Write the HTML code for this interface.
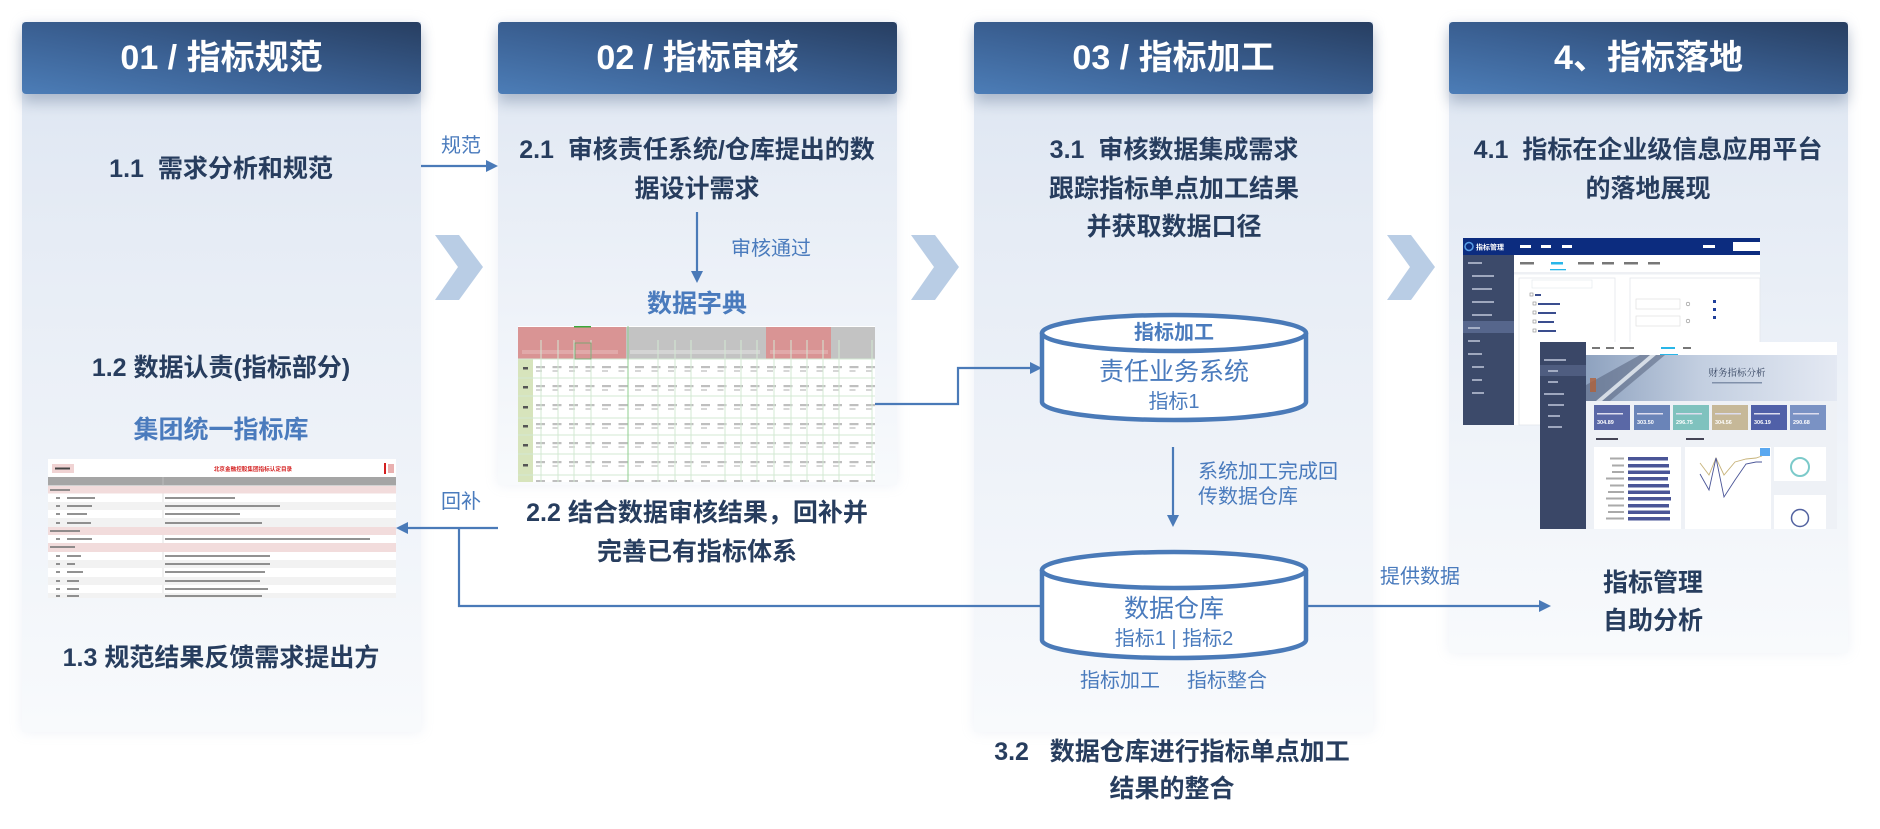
<!DOCTYPE html>
<html><head><meta charset="utf-8">
<style>
html,body{margin:0;padding:0;background:#fff;}
body{width:1880px;height:829px;position:relative;overflow:hidden;font-family:"Liberation Sans","Noto Sans CJK SC",sans-serif;}
.panel{position:absolute;width:399px;background:linear-gradient(180deg,#dce5f1 0%,#e6ecf5 30%,#eff3f9 65%,#f8fafc 100%);box-shadow:0 0 12px rgba(160,180,210,0.18);z-index:1;}
.hdr{position:absolute;width:399px;height:72px;top:22px;border-radius:4px;background:linear-gradient(to top right,#4c7db7 0%,#3b6194 45%,#273e61 100%);box-shadow:0 8px 14px rgba(35,60,100,0.28);color:#fff;font-weight:bold;font-size:34px;line-height:72px;text-align:center;z-index:3;white-space:nowrap;}
.t{position:absolute;white-space:nowrap;text-align:center;width:500px;z-index:4;}
.l{position:absolute;white-space:nowrap;text-align:left;z-index:4;}
.d{color:#273d5e;font-weight:bold;font-size:25px;}
.b{color:#4a7bbd;font-size:20px;}
.bb{color:#4a7bbd;font-weight:bold;font-size:25px;}
svg{position:absolute;left:0;top:0;z-index:2;}
</style></head><body>

<div class="panel" style="left:22px;top:22px;height:710px;"></div>
<div class="panel" style="left:498px;top:22px;height:463px;"></div>
<div class="panel" style="left:974px;top:22px;height:710px;"></div>
<div class="panel" style="left:1449px;top:22px;height:631px;"></div>

<div class="hdr" style="left:22px;">01 / 指标规范</div>
<div class="hdr" style="left:498px;">02 / 指标审核</div>
<div class="hdr" style="left:974px;">03 / 指标加工</div>
<div class="hdr" style="left:1449px;">4、指标落地</div>

<svg width="1880" height="829" viewBox="0 0 1880 829" xmlns="http://www.w3.org/2000/svg">
<defs>
<pattern id="sm1" x="533" y="359" width="16.5" height="19" patternUnits="userSpaceOnUse">
<rect x="3" y="7" width="9" height="2.2" fill="#8a8a8a" opacity="0.55"/>
<rect x="3" y="11" width="6" height="2" fill="#8a8a8a" opacity="0.35"/>
</pattern>
<linearGradient id="ban" x1="0" y1="0" x2="1" y2="0">
<stop offset="0" stop-color="#8ea2bf"/><stop offset="0.45" stop-color="#c2cee0"/><stop offset="1" stop-color="#e4e9f3"/>
</linearGradient>
</defs>

<!-- chevrons -->
<polygon points="435,235 459,235 483,267 459,300 435,300 458,267" fill="#b9cde5"/>
<polygon points="911,235 935,235 959,267 935,300 911,300 934,267" fill="#b9cde5"/>
<polygon points="1387,235 1411,235 1435,267 1411,300 1387,300 1410,267" fill="#b9cde5"/>

<!-- table 1 数据字典 -->
<rect x="518" y="326" width="357" height="156" fill="#fff"/>
<rect x="518" y="327" width="108" height="32" fill="#d99494"/>
<rect x="626" y="327" width="140" height="32" fill="#c3c3c3"/>
<rect x="766" y="327" width="65" height="32" fill="#d99494"/>
<rect x="831" y="327" width="44" height="32" fill="#c3c3c3"/>
<rect x="574" y="326" width="17" height="1.5" fill="#3aa83a"/>
<rect x="518" y="359" width="15" height="123" fill="#d7e4bc"/>
<rect x="533" y="359" width="342" height="123" fill="url(#sm1)"/>
<g fill="#9aa" opacity="0.8">
<rect x="522" y="350" width="96" height="4" fill="#fff" opacity="0.25"/>
<rect x="630" y="350" width="130" height="4" fill="#fff" opacity="0.35"/>
<rect x="770" y="350" width="58" height="4" fill="#fff" opacity="0.25"/>
</g>
<g fill="#555">
<rect x="523" y="367" width="5" height="2.5"/><rect x="523" y="386" width="5" height="2.5"/><rect x="523" y="406" width="5" height="2.5"/>
<rect x="523" y="425" width="5" height="2.5"/><rect x="523" y="444" width="5" height="2.5"/><rect x="523" y="464" width="5" height="2.5"/>
</g>
<g stroke="#d3e8d3" stroke-width="1">
<line x1="518" y1="359" x2="875" y2="359"/><line x1="518" y1="378" x2="875" y2="378"/>
<line x1="518" y1="396" x2="875" y2="396"/><line x1="518" y1="418" x2="875" y2="418"/>
<line x1="518" y1="435" x2="875" y2="435"/><line x1="518" y1="454" x2="875" y2="454"/>
<line x1="518" y1="475" x2="875" y2="475"/>
<line x1="541" y1="340" x2="541" y2="482"/><line x1="558" y1="340" x2="558" y2="482"/>
<line x1="574" y1="340" x2="574" y2="482"/><line x1="591" y1="340" x2="591" y2="482"/>
<line x1="658" y1="340" x2="658" y2="482"/><line x1="675" y1="340" x2="675" y2="482"/>
<line x1="691" y1="340" x2="691" y2="482"/><line x1="725" y1="340" x2="725" y2="482"/>
<line x1="741" y1="340" x2="741" y2="482"/><line x1="757" y1="340" x2="757" y2="482"/>
<line x1="774" y1="340" x2="774" y2="482"/><line x1="791" y1="340" x2="791" y2="482"/>
<line x1="807" y1="340" x2="807" y2="482"/><line x1="823" y1="340" x2="823" y2="482"/>
<line x1="839" y1="340" x2="839" y2="482"/><line x1="872" y1="340" x2="872" y2="482"/>
</g>
<line x1="628" y1="326" x2="628" y2="482" stroke="#8fcf8f" stroke-width="1"/>
<rect x="575" y="343" width="16" height="16" fill="none" stroke="#6aa86a" stroke-width="0.8"/>

<!-- table 2 集团统一指标库 -->
<rect x="48" y="459" width="348" height="139" fill="#fff"/>
<rect x="52" y="464" width="22" height="9" fill="#f0d3d3"/>
<rect x="55" y="467.5" width="15" height="2" fill="#444"/>
<text x="253" y="471" font-size="5.6" font-weight="bold" fill="#d42020" text-anchor="middle" font-family="Liberation Sans, Noto Sans CJK SC, sans-serif">北京金融控股集团指标认定目录</text>
<rect x="384" y="463" width="2" height="11" fill="#d42020"/><rect x="388" y="464" width="6" height="9" fill="#e9b0b0"/>
<rect x="48" y="477" width="348" height="8.5" fill="#a5a5a5"/>
<line x1="163" y1="477" x2="163" y2="598" stroke="#ccc" stroke-width="0.6"/>
<rect x="48" y="486" width="348" height="7.5" fill="#f2dcdc"/>
<rect x="48" y="502" width="348" height="8" fill="#f2f2f2"/>
<rect x="48" y="518" width="348" height="9" fill="#f2f2f2"/>
<rect x="48" y="527" width="348" height="8" fill="#f2dcdc"/>
<rect x="48" y="543" width="348" height="9" fill="#f2dcdc"/>
<rect x="48" y="560" width="348" height="8" fill="#f2f2f2"/>
<rect x="48" y="577" width="348" height="8" fill="#f2f2f2"/>
<rect x="48" y="593" width="348" height="5" fill="#f2f2f2"/>
<g fill="#777" opacity="0.8">
<rect x="50" y="489" width="20" height="2"/>
<rect x="56" y="497" width="4" height="2"/><rect x="67" y="497" width="28" height="2"/><rect x="165" y="497" width="70" height="2"/>
<rect x="56" y="505" width="4" height="2"/><rect x="67" y="505" width="25" height="2"/><rect x="165" y="505" width="115" height="2"/>
<rect x="56" y="513" width="4" height="2"/><rect x="67" y="513" width="20" height="2"/><rect x="165" y="513" width="75" height="2"/>
<rect x="56" y="522" width="4" height="2"/><rect x="67" y="522" width="24" height="2"/><rect x="165" y="522" width="97" height="2"/>
<rect x="50" y="530" width="30" height="2"/>
<rect x="56" y="538" width="4" height="2"/><rect x="67" y="538" width="25" height="2"/><rect x="165" y="538" width="205" height="2"/>
<rect x="50" y="546" width="25" height="2"/>
<rect x="56" y="555" width="4" height="2"/><rect x="67" y="555" width="14" height="2"/><rect x="165" y="555" width="105" height="2"/>
<rect x="56" y="563" width="4" height="2"/><rect x="67" y="563" width="8" height="2"/><rect x="165" y="563" width="105" height="2"/>
<rect x="56" y="571" width="4" height="2"/><rect x="67" y="571" width="16" height="2"/><rect x="165" y="571" width="100" height="2"/>
<rect x="56" y="580" width="4" height="2"/><rect x="67" y="580" width="12" height="2"/><rect x="165" y="580" width="95" height="2"/>
<rect x="56" y="588" width="4" height="2"/><rect x="67" y="588" width="12" height="2"/><rect x="165" y="588" width="103" height="2"/>
<rect x="56" y="595" width="4" height="2"/><rect x="67" y="595" width="12" height="2"/><rect x="165" y="595" width="97" height="2"/>
</g>

<!-- screenshot 1 -->
<rect x="1463" y="238" width="297" height="187" fill="#fff"/>
<rect x="1463" y="238" width="297" height="17" fill="#0c2c7f"/>
<circle cx="1469" cy="246.5" r="4" fill="none" stroke="#5aa0e8" stroke-width="1.5"/>
<text x="1476" y="249.5" font-size="7" font-weight="bold" fill="#fff" font-family="Liberation Sans, Noto Sans CJK SC, sans-serif">指标管理</text>
<g fill="#fff"><rect x="1520" y="245" width="11" height="3"/><rect x="1541" y="245" width="10" height="3"/><rect x="1562" y="245" width="10" height="3"/><rect x="1703" y="245" width="12" height="3"/></g>
<rect x="1733" y="242" width="27" height="9" fill="#fff"/>
<rect x="1463" y="255" width="51" height="170" fill="#3c4a6a"/>
<rect x="1463" y="321" width="51" height="12" fill="#56668c"/>
<g fill="#b8c0d4" opacity="0.8">
<rect x="1468" y="262" width="14" height="2"/><rect x="1472" y="275" width="22" height="2"/><rect x="1472" y="288" width="20" height="2"/>
<rect x="1472" y="301" width="22" height="2"/><rect x="1472" y="314" width="20" height="2"/><rect x="1468" y="327" width="12" height="2"/>
<rect x="1468" y="340" width="12" height="2"/><rect x="1468" y="353" width="14" height="2"/><rect x="1472" y="366" width="12" height="2"/>
<rect x="1472" y="379" width="10" height="2"/><rect x="1472" y="392" width="12" height="2"/>
</g>
<g fill="#777"><rect x="1520" y="262" width="14" height="2.5"/><rect x="1551" y="262" width="12" height="2.5" fill="#29b6e8"/><rect x="1578" y="262" width="16" height="2.5"/><rect x="1602" y="262" width="12" height="2.5"/><rect x="1624" y="262" width="14" height="2.5"/><rect x="1648" y="262" width="12" height="2.5"/></g>
<rect x="1550" y="269" width="16" height="1.3" fill="#29b6e8"/>
<rect x="1514" y="272" width="246" height="2.5" fill="#eef0f4"/>
<rect x="1519" y="278" width="96" height="147" fill="none" stroke="#e3e6ec" stroke-width="0.8"/>
<rect x="1532" y="280" width="60" height="8" fill="none" stroke="#e3e6ec" stroke-width="0.6"/>
<g fill="none" stroke="#888" stroke-width="0.6">
<rect x="1530" y="293" width="3" height="3"/><rect x="1533" y="302" width="3" height="3"/><rect x="1533" y="311" width="3" height="3"/><rect x="1533" y="320" width="3" height="3"/><rect x="1533" y="329" width="3" height="3"/>
</g>
<g fill="#3a4d8e"><rect x="1535" y="294" width="6" height="2"/><rect x="1538" y="303" width="22" height="2"/><rect x="1538" y="312" width="18" height="2"/><rect x="1538" y="321" width="16" height="2"/><rect x="1538" y="330" width="18" height="2"/></g>
<rect x="1630" y="278" width="130" height="100" fill="none" stroke="#e3e6ec" stroke-width="0.8"/>
<rect x="1636" y="299" width="44" height="10" fill="none" stroke="#ddd" stroke-width="0.6"/>
<rect x="1636" y="316" width="44" height="10" fill="none" stroke="#ddd" stroke-width="0.6"/>
<circle cx="1688" cy="304" r="1.8" fill="none" stroke="#888" stroke-width="0.6"/><circle cx="1688" cy="321" r="1.8" fill="none" stroke="#888" stroke-width="0.6"/>
<g fill="#1f3f9a"><rect x="1713" y="300" width="3" height="3"/><rect x="1713" y="308" width="3" height="3"/><rect x="1713" y="316" width="3" height="3"/></g>

<!-- screenshot 2 -->
<rect x="1540" y="342" width="297" height="187" fill="#fff"/>
<rect x="1540" y="342" width="46" height="187" fill="#3a4767"/>
<rect x="1540" y="365" width="46" height="11" fill="#4f5d80"/>
<g fill="#b8c0d4" opacity="0.8">
<rect x="1544" y="359" width="22" height="2"/><rect x="1548" y="370" width="10" height="2"/><rect x="1548" y="381" width="10" height="2"/>
<rect x="1544" y="393" width="20" height="2"/><rect x="1548" y="404" width="16" height="2"/><rect x="1548" y="415" width="12" height="2"/><rect x="1548" y="426" width="14" height="2"/>
</g>
<g fill="#777"><rect x="1592" y="347" width="8" height="2"/><rect x="1606" y="347" width="8" height="2"/><rect x="1620" y="347" width="14" height="2"/><rect x="1661" y="347" width="14" height="2" fill="#29b6e8"/><rect x="1683" y="347" width="8" height="2"/></g>
<rect x="1660" y="354" width="18" height="1" fill="#29b6e8"/>
<rect x="1586" y="355" width="251" height="46" fill="url(#ban)"/>
<polygon points="1586,401 1586,385 1640,355 1665,355 1610,401" fill="#55637e" opacity="0.55"/>
<polygon points="1596,401 1650,355 1656,355 1602,401" fill="#eef2f8" opacity="0.8"/>
<rect x="1590" y="378" width="6" height="14" fill="#b0603a" opacity="0.8"/>
<text x="1737" y="376" font-size="9.5" fill="#33425f" text-anchor="middle" font-family="Noto Serif CJK SC, Liberation Serif, serif">财务指标分析</text>
<rect x="1712" y="382" width="50" height="1.5" fill="#8090aa"/>
<rect x="1586" y="401" width="251" height="128" fill="#eef1f6"/>
<rect x="1594" y="405" width="36" height="25" fill="#5a68a6"/>
<rect x="1634" y="405" width="36" height="25" fill="#6a84b8"/>
<rect x="1673" y="405" width="36" height="25" fill="#7fc2be"/>
<rect x="1712" y="405" width="36" height="25" fill="#c6b898"/>
<rect x="1751" y="405" width="36" height="25" fill="#5060a8"/>
<rect x="1790" y="405" width="36" height="25" fill="#7a92c4"/>
<g font-size="5.5" font-weight="bold" fill="#fff" font-family="Liberation Sans, sans-serif">
<text x="1597" y="424">304.89</text><text x="1637" y="424">303.50</text><text x="1676" y="424">296.75</text>
<text x="1715" y="424">304.56</text><text x="1754" y="424">306.19</text><text x="1793" y="424">290.68</text>
</g>
<g fill="#dde"><rect x="1597" y="413" width="26" height="1.5"/><rect x="1637" y="413" width="26" height="1.5"/><rect x="1676" y="413" width="26" height="1.5"/><rect x="1715" y="413" width="26" height="1.5"/><rect x="1754" y="413" width="26" height="1.5"/><rect x="1793" y="413" width="26" height="1.5"/></g>
<g fill="#445"><rect x="1596" y="438" width="22" height="2"/><rect x="1686" y="438" width="18" height="2"/></g>
<rect x="1594" y="447" width="87" height="82" fill="#fff"/>
<rect x="1685" y="447" width="86" height="82" fill="#fff"/>
<rect x="1774" y="447" width="52" height="34" fill="#fff"/>
<rect x="1774" y="495" width="52" height="34" fill="#fff"/>
<g fill="#4a5597">
<rect x="1628" y="457" width="40" height="3.5"/><rect x="1628" y="464" width="41" height="3.5"/><rect x="1628" y="470.5" width="42" height="3.5"/>
<rect x="1628" y="477" width="40" height="3.5"/><rect x="1628" y="484" width="41" height="3.5"/><rect x="1628" y="490.5" width="42" height="3.5"/>
<rect x="1628" y="497" width="43" height="3.5"/><rect x="1628" y="504" width="41" height="3.5"/><rect x="1628" y="510.5" width="42" height="3.5"/>
<rect x="1628" y="517" width="42" height="3.5"/>
</g>
<g fill="#aaa"><rect x="1610" y="457.5" width="14" height="2"/><rect x="1612" y="464.5" width="12" height="2"/><rect x="1612" y="471" width="12" height="2"/><rect x="1606" y="477.5" width="18" height="2"/><rect x="1610" y="484.5" width="14" height="2"/><rect x="1608" y="491" width="16" height="2"/><rect x="1606" y="497.5" width="18" height="2"/><rect x="1608" y="504.5" width="16" height="2"/><rect x="1608" y="511" width="16" height="2"/><rect x="1606" y="517.5" width="18" height="2"/></g>
<rect x="1760" y="448" width="10" height="8" fill="#5aa8f0"/>
<polyline points="1700,463 1709,475 1716,458 1724,475 1735,462 1746,459 1756,458 1762,456" fill="none" stroke="#c7b37a" stroke-width="0.9"/>
<polyline points="1700,474 1709,490 1716,458 1724,497 1735,480 1746,464 1756,462 1762,462" fill="none" stroke="#4a5597" stroke-width="0.9"/>
<circle cx="1800" cy="467" r="9" fill="none" stroke="#7ccaca" stroke-width="2"/>
<circle cx="1800" cy="518" r="8.5" fill="none" stroke="#5262a0" stroke-width="1.5"/>

<!-- connectors -->
<g stroke="#4a7ab8" stroke-width="2.2" fill="none">
<line x1="421" y1="166" x2="488" y2="166"/>
<line x1="697" y1="212" x2="697" y2="273"/>
<polyline points="875,404 958,404 958,368 1032,368"/>
<line x1="406" y1="528" x2="498" y2="528"/>
<polyline points="459,528 459,606 1042,606"/>
<line x1="1173" y1="447" x2="1173" y2="517"/>
<line x1="1306" y1="606" x2="1541" y2="606"/>
</g>
<g fill="#4a7ab8">
<polygon points="498,166 486,160 486,172"/>
<polygon points="697,283 691,271 703,271"/>
<polygon points="1042,368 1030,362 1030,374"/>
<polygon points="396,528 408,522 408,534"/>
<polygon points="1173,527 1167,515 1179,515"/>
<polygon points="1551,606 1539,600 1539,612"/>
</g>

<!-- cylinders -->
<g stroke="#4a7ab8" stroke-width="4.5" fill="#fff">
<path d="M1042,333 L1042,402 A132,18 0 0 0 1306,402 L1306,333"/>
<ellipse cx="1174" cy="333" rx="132" ry="18"/>
<path d="M1042,570 L1042,640 A132,18 0 0 0 1306,640 L1306,570"/>
<ellipse cx="1174" cy="570" rx="132" ry="18"/>
</g>
</svg>

<!-- column 1 -->
<div class="t d" style="left:-29px;top:154px;line-height:30px;">1.1&nbsp; 需求分析和规范</div>
<div class="t d" style="left:-29px;top:353px;line-height:30px;">1.2 数据认责(指标部分)</div>
<div class="t bb" style="left:-29px;top:415px;line-height:30px;">集团统一指标库</div>
<div class="t d" style="left:-29px;top:643px;line-height:30px;">1.3 规范结果反馈需求提出方</div>
<div class="l b" style="left:441px;top:134px;line-height:24px;">规范</div>
<div class="l b" style="left:441px;top:490px;line-height:24px;">回补</div>

<!-- column 2 -->
<div class="t d" style="left:447px;top:131px;line-height:39px;">2.1&nbsp; 审核责任系统/仓库提出的数<br>据设计需求</div>
<div class="l b" style="left:731px;top:237px;line-height:24px;">审核通过</div>
<div class="t bb" style="left:447px;top:289px;line-height:30px;">数据字典</div>
<div class="t d" style="left:447px;top:494px;line-height:39px;">2.2 结合数据审核结果，回补并<br>完善已有指标体系</div>

<!-- column 3 -->
<div class="t d" style="left:924px;top:131px;line-height:38.5px;">3.1&nbsp; 审核数据集成需求<br>跟踪指标单点加工结果<br>并获取数据口径</div>
<div class="t" style="left:924px;top:321px;line-height:24px;color:#4a7bbd;font-weight:bold;font-size:20px;">指标加工</div>
<div class="t" style="left:924px;top:357px;line-height:30px;color:#4a7bbd;font-size:25px;">责任业务系统</div>
<div class="t" style="left:924px;top:390px;line-height:24px;color:#4a7bbd;font-size:20px;">指标1</div>
<div class="l b" style="left:1198px;top:460px;line-height:25px;">系统加工完成回<br>传数据仓库</div>
<div class="t" style="left:924px;top:594px;line-height:30px;color:#4a7bbd;font-size:25px;">数据仓库</div>
<div class="t" style="left:924px;top:627px;line-height:24px;color:#4a7bbd;font-size:20px;">指标1 | 指标2</div>
<div class="l b" style="left:1080px;top:669px;line-height:24px;">指标加工</div>
<div class="l b" style="left:1187px;top:669px;line-height:24px;">指标整合</div>
<div class="t d" style="left:922px;top:734px;line-height:37px;">3.2&nbsp;&nbsp; 数据仓库进行指标单点加工<br>结果的整合</div>
<div class="l b" style="left:1380px;top:565px;line-height:24px;">提供数据</div>

<!-- column 4 -->
<div class="t d" style="left:1398px;top:131px;line-height:38.5px;">4.1&nbsp; 指标在企业级信息应用平台<br>的落地展现</div>
<div class="l d" style="left:1603px;top:564px;line-height:38px;">指标管理<br>自助分析</div>

</body></html>
